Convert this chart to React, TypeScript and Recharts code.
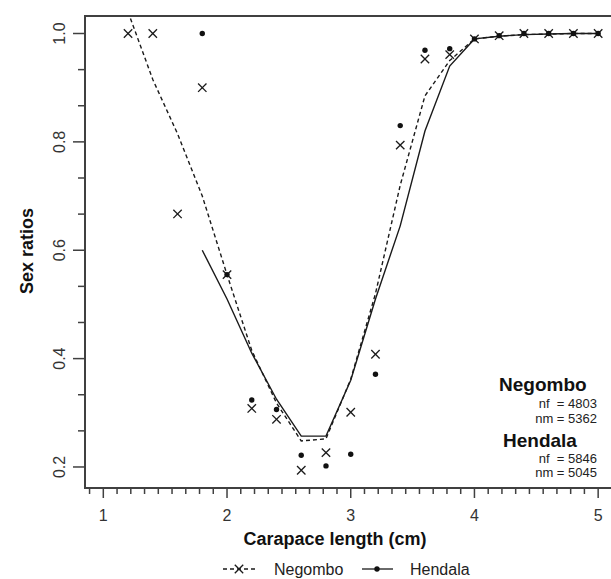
import React from 'react';
import { ComposedChart, Line, Scatter, XAxis, YAxis, ReferenceArea, Customized } from 'recharts';

// Carapace length classes (cm)
const negomboSizes = [1.2, 1.4, 1.6, 1.8, 2.0, 2.2, 2.4, 2.6, 2.8, 3.0, 3.2, 3.4, 3.6, 3.8, 4.0, 4.2, 4.4, 4.6, 4.8, 5.0];
const negomboObserved = [1.0, 1.0, 0.667, 0.9, 0.555, 0.308, 0.288, 0.194, 0.2265, 0.301, 0.408, 0.794, 0.953, 0.961, 0.99, 0.996, 1.0, 1.0, 1.0, 1.0];
const negomboFitted = [1.04, 0.915, 0.815, 0.7, 0.555, 0.415, 0.318, 0.248, 0.252, 0.362, 0.52, 0.72, 0.885, 0.95, 0.99, 0.995, 0.998, 0.999, 1.0, 1.0];

const hendalaSizes = [1.8, 2.0, 2.2, 2.4, 2.6, 2.8, 3.0, 3.2, 3.4, 3.6, 3.8, 4.0, 4.2, 4.4, 4.6, 4.8, 5.0];
const hendalaObserved = [1.0, 0.555, 0.3235, 0.306, 0.2216, 0.202, 0.2234, 0.371, 0.83, 0.969, 0.972, 0.99, 0.996, 1.0, 1.0, 1.0, 1.0];
const hendalaFitted = [0.6, 0.51, 0.41, 0.325, 0.257, 0.257, 0.36, 0.51, 0.645, 0.82, 0.94, 0.99, 0.995, 0.998, 0.999, 1.0, 1.0];

const xMajorTicks = [1, 2, 3, 4, 5];
const xTickLabels = ['1', '2', '3', '4', '5'];
const yMajorTicks = [0.2, 0.4, 0.6, 0.8, 1.0];
const yTickLabels = ['0.2', '0.4', '0.6', '0.8', '1.0'];

const seriesNames = ['Negombo', 'Hendala'];
const annotationLines = [
  ['nf  = 4803', 'nm = 5362'],
  ['nf  = 5846', 'nm = 5045'],
];

const X_DOMAIN: [number, number] = [0.852, 5.12];
const Y_DOMAIN: [number, number] = [0.1612, 1.0323];

const toPoints = (xs: number[], ys: number[]) => xs.map((x, i) => ({ x, y: ys[i] }));

const negomboObsData = toPoints(negomboSizes, negomboObserved);
const negomboFitData = toPoints(negomboSizes, negomboFitted);
const hendalaObsData = toPoints(hendalaSizes, hendalaObserved);
const hendalaFitData = toPoints(hendalaSizes, hendalaFitted);

// minor ticks: 9 intervals per unit on x, 3 intervals per 0.2 on y
const xTicks: number[] = [];
for (let j = -1; j <= 37; j++) xTicks.push(+(1 + j / 9).toFixed(6));
const yTicks: number[] = [];
for (let k = 0; k <= 12; k++) yTicks.push(+(0.2 + (k * 0.2) / 3).toFixed(6));

const FONT = '"Liberation Sans", Arial, sans-serif';
const AXIS_COLOR = '#404040';
const INK = '#1a1a1a';

const findMajor = (v: number, majors: number[]) => majors.findIndex((m) => Math.abs(m - v) < 1e-4);

const XTick = (props: any) => {
  const { x, y, payload } = props;
  const idx = findMajor(payload.value, xMajorTicks);
  const major = idx >= 0;
  return (
    <g>
      <line x1={x} x2={x} y1={y} y2={y + (major ? 10 : 6)} stroke={AXIS_COLOR} strokeWidth={1.5} />
      {major && (
        <text x={x} y={y + 33} textAnchor="middle" fontSize={16} fontFamily={FONT} fill="#333">
          {xTickLabels[idx]}
        </text>
      )}
    </g>
  );
};

const YTick = (props: any) => {
  const { x, y, payload } = props;
  const idx = findMajor(payload.value, yMajorTicks);
  const major = idx >= 0;
  const lx = x - 25.5;
  return (
    <g>
      <line x1={x - (major ? 12 : 7)} x2={x} y1={y} y2={y} stroke={AXIS_COLOR} strokeWidth={1.5} />
      {major && (
        <text
          x={lx}
          y={y}
          dy="0.35em"
          transform={`rotate(-90, ${lx}, ${y})`}
          textAnchor="middle"
          fontSize={16}
          fontFamily={FONT}
          fill="#333"
        >
          {yTickLabels[idx]}
        </text>
      )}
    </g>
  );
};

const CrossShape = (props: any) => {
  const { cx, cy } = props;
  const s = 4.2;
  return (
    <g>
      <line x1={cx - s} y1={cy - s} x2={cx + s} y2={cy + s} stroke={INK} strokeWidth={1.3} />
      <line x1={cx - s} y1={cy + s} x2={cx + s} y2={cy - s} stroke={INK} strokeWidth={1.3} />
    </g>
  );
};

const DotShape = (props: any) => {
  const { cx, cy } = props;
  return <circle cx={cx} cy={cy} r={2.7} fill="#111" />;
};

const Overlay = () => (
  <g fontFamily={FONT}>
    {/* axis titles */}
    <text x={335} y={545} textAnchor="middle" fontSize={18} fontWeight="bold" fill="#111">
      Carapace length (cm)
    </text>
    <text x={33} y={251} textAnchor="middle" fontSize={18} fontWeight="bold" fill="#111" transform="rotate(-90, 33, 251)">
      Sex ratios
    </text>

    {/* annotations */}
    <text x={499} y={391} fontSize={19} fontWeight="bold" fill="#111">{seriesNames[0]}</text>
    <text x={597} y={408} fontSize={13} textAnchor="end" fill="#222" style={{ whiteSpace: 'pre' }}>{annotationLines[0][0]}</text>
    <text x={597} y={423} fontSize={13} textAnchor="end" fill="#222">{annotationLines[0][1]}</text>
    <text x={503} y={447} fontSize={19} fontWeight="bold" fill="#111">{seriesNames[1]}</text>
    <text x={597} y={463} fontSize={13} textAnchor="end" fill="#222" style={{ whiteSpace: 'pre' }}>{annotationLines[1][0]}</text>
    <text x={597} y={477} fontSize={13} textAnchor="end" fill="#222">{annotationLines[1][1]}</text>

    {/* legend */}
    <line x1={223} x2={255} y1={569} y2={569} stroke={INK} strokeWidth={1.3} strokeDasharray="4 3" />
    <CrossShape cx={239} cy={569} />
    <text x={274} y={575} fontSize={16} fill="#222">{seriesNames[0]}</text>
    <line x1={362} x2={393} y1={569} y2={569} stroke={INK} strokeWidth={1.3} />
    <DotShape cx={377} cy={569} />
    <text x={410} y={575} fontSize={16} fill="#222">{seriesNames[1]}</text>
  </g>
);

export default function App() {
  return (
    <div style={{ position: 'absolute', left: 0, top: 0, width: 611, height: 579, overflow: 'hidden', background: '#fff' }}>
      <ComposedChart width={613} height={579} margin={{ top: 16, right: 0, bottom: 0, left: 0 }}>
        <XAxis
          type="number"
          dataKey="x"
          domain={X_DOMAIN}
          allowDataOverflow
          ticks={xTicks}
          interval={0}
          tick={<XTick />}
          tickSize={0}
          tickMargin={0}
          axisLine={false}
          tickLine={false}
          height={91}
        />
        <YAxis
          type="number"
          dataKey="y"
          domain={Y_DOMAIN}
          allowDataOverflow
          ticks={yTicks}
          interval={0}
          tick={<YTick />}
          tickSize={0}
          tickMargin={0}
          axisLine={false}
          tickLine={false}
          width={85}
        />
        <ReferenceArea
          x1={X_DOMAIN[0]}
          x2={X_DOMAIN[1]}
          y1={Y_DOMAIN[0]}
          y2={Y_DOMAIN[1]}
          fill="none"
          fillOpacity={0}
          stroke={AXIS_COLOR}
          strokeWidth={2}
          strokeOpacity={1}
        />
        <Line
          data={negomboFitData}
          dataKey="y"
          type="linear"
          stroke={INK}
          strokeWidth={1.4}
          strokeDasharray="4 3"
          dot={false}
          activeDot={false}
          isAnimationActive={false}
        />
        <Line
          data={hendalaFitData}
          dataKey="y"
          type="linear"
          stroke={INK}
          strokeWidth={1.4}
          dot={false}
          activeDot={false}
          isAnimationActive={false}
        />
        <Scatter data={negomboObsData} shape={<CrossShape />} isAnimationActive={false} />
        <Scatter data={hendalaObsData} shape={<DotShape />} isAnimationActive={false} />
        <Customized component={<Overlay />} />
      </ComposedChart>
    </div>
  );
}
